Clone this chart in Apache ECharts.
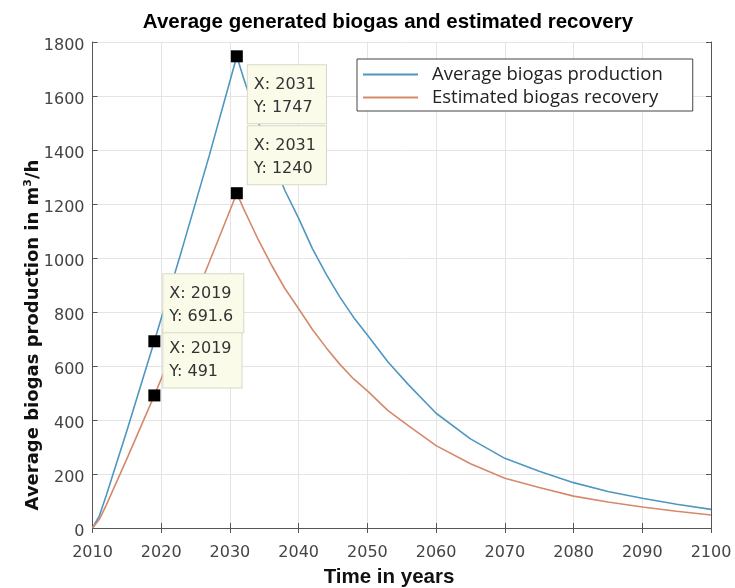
<!DOCTYPE html>
<html>
<head>
<meta charset="utf-8">
<script src="https://cdn.jsdelivr.net/npm/echarts@6/dist/echarts.min.js"></script>
<style>html,body{margin:0;padding:0;background:#fff}#c{width:735px;height:588px}</style>
</head>
<body>
<div id="c"></div>
<script>
// ---- data ----
const prodYears = [2010, 2011, 2012, 2015, 2019, 2023, 2027, 2031, 2032, 2034, 2036, 2038, 2040, 2042, 2044, 2046, 2048, 2050, 2053, 2056, 2060, 2065, 2070, 2075, 2080, 2085, 2090, 2095, 2100];
const prodValues = [0, 45, 120, 360, 691.6, 1030, 1380, 1747, 1665, 1512, 1375, 1250, 1147, 1035, 940, 855, 780, 715, 615, 530, 425, 330, 258, 210, 168, 135, 110, 88, 69];
const recYears = prodYears;
const recValues = [0, 32, 85, 256, 491, 735, 985, 1240, 1182, 1074, 976, 887, 812, 735, 668, 606, 552, 508, 435, 378, 305, 238, 184, 150, 118, 96, 78, 62, 48];
const seriesNames = ['Average biogas production', 'Estimated biogas recovery'];
const tipYears = [2031, 2031, 2019, 2019];
const tipValues = [1747, 1240, 491, 691.6];
const xTicks = [2010, 2100, 10];
const yTicks = [0, 1800, 200];

const chart = echarts.init(document.getElementById('c'), null, {renderer: 'canvas'});
const toPairs = (xs, ys) => xs.map((x, i) => [x, ys[i]]);
const tickFont = 'DejaVu Sans';
const tipOffsets = [[17, 15], [17, -61], [15, -60], [15, -61]];

const option = {
  animation: false,
  backgroundColor: '#ffffff',
  title: {
    text: 'Average generated biogas and estimated recovery',
    left: 383, top: 7, textAlign: 'center',
    textStyle: {fontFamily: 'Liberation Sans', fontWeight: 'bold', fontSize: 20.5, color: '#000'}
  },
  legend: {
    data: seriesNames,
    orient: 'vertical',
    left: 357, top: 59,
    padding: [6, 30, 4, 6],
    itemGap: 4,
    itemWidth: 55, itemHeight: 2,
    icon: 'rect',
    borderColor: '#444', borderWidth: 1,
    backgroundColor: '#fff',
    textStyle: {fontFamily: 'Open Sans', fontSize: 18.5, color: '#222', padding: [0, 0, 0, 9], lineHeight: 19}
  },
  grid: {left: 92.5, right: 24, top: 42, bottom: 60, containLabel: false},
  xAxis: [{
    type: 'value', min: xTicks[0], max: xTicks[1], interval: xTicks[2],
    axisLine: {show: true, onZero: false, lineStyle: {color: '#555', width: 1}},
    axisTick: {show: true, inside: true, length: 5, lineStyle: {color: '#555'}},
    splitLine: {show: true, lineStyle: {color: '#e4e4e4', width: 1}},
    axisLabel: {fontFamily: tickFont, fontSize: 16, color: '#444', margin: 17, formatter: v => String(v)}
  }, {
    type: 'value', position: 'top', min: xTicks[0], max: xTicks[1], interval: xTicks[2],
    axisLine: {show: true, lineStyle: {color: '#555', width: 1}},
    axisTick: {show: true, inside: true, length: 5, lineStyle: {color: '#555'}},
    axisLabel: {show: false}, splitLine: {show: false}
  }],
  yAxis: [{
    type: 'value', min: yTicks[0], max: yTicks[1], interval: yTicks[2],
    axisLine: {show: true, onZero: false, lineStyle: {color: '#555', width: 1}},
    axisTick: {show: true, inside: true, length: 5, lineStyle: {color: '#555'}},
    splitLine: {show: true, lineStyle: {color: '#e4e4e4', width: 1}},
    axisLabel: {fontFamily: tickFont, fontSize: 16, color: '#444', margin: 8, verticalAlign: 'top', lineHeight: 8, formatter: v => String(v)}
  }, {
    type: 'value', position: 'right', min: yTicks[0], max: yTicks[1], interval: yTicks[2],
    axisLine: {show: true, lineStyle: {color: '#555', width: 1}},
    axisTick: {show: true, inside: true, length: 5, lineStyle: {color: '#555'}},
    axisLabel: {show: false}, splitLine: {show: false}
  }],
  graphic: [{
    type: 'text', x: 33, y: 335, rotation: Math.PI / 2,
    style: {
      text: '{a|Average biogas production in m}{s|3}{a|/h}',
      align: 'center', verticalAlign: 'middle',
      rich: {
        a: {fontFamily: 'DejaVu Sans', fontWeight: 'bold', fontSize: 18, fill: '#111'},
        s: {fontFamily: 'DejaVu Sans', fontWeight: 'bold', fontSize: 11, fill: '#111', padding: [0, 0, 9, 0]}
      }
    }
  }, {
    type: 'text', x: 389, y: 577,
    style: {
      text: 'Time in years', align: 'center', verticalAlign: 'middle',
      font: 'bold 20.5px "Liberation Sans"', fill: '#111'
    }
  }],
  series: [{
    name: seriesNames[0], type: 'line', data: toPairs(prodYears, prodValues),
    showSymbol: false, color: '#4f97c0', lineStyle: {width: 1.6, color: '#4f97c0'}, z: 3
  }, {
    name: seriesNames[1], type: 'line', data: toPairs(recYears, recValues),
    showSymbol: false, color: '#d5896a', lineStyle: {width: 1.6, color: '#d5896a'}, z: 3
  }, {
    name: 'tips', type: 'scatter', z: 10,
    symbol: 'rect', symbolSize: 12,
    itemStyle: {color: '#000', opacity: 1},
    data: tipYears.map((x, i) => ({
      value: [x, tipValues[i]],
      label: {position: tipOffsets[i]}
    })),
    label: {
      show: true,
      formatter: p => 'X: ' + p.value[0] + '\nY: ' + p.value[1],
      fontFamily: tickFont, fontSize: 16, color: '#333', lineHeight: 23,
      backgroundColor: '#fbfbea', borderColor: '#d8d8c6', borderWidth: 1,
      padding: [8, 10, 4, 6], opacity: 1
    }
  }]
};
chart.setOption(option);
</script>
</body>
</html>
